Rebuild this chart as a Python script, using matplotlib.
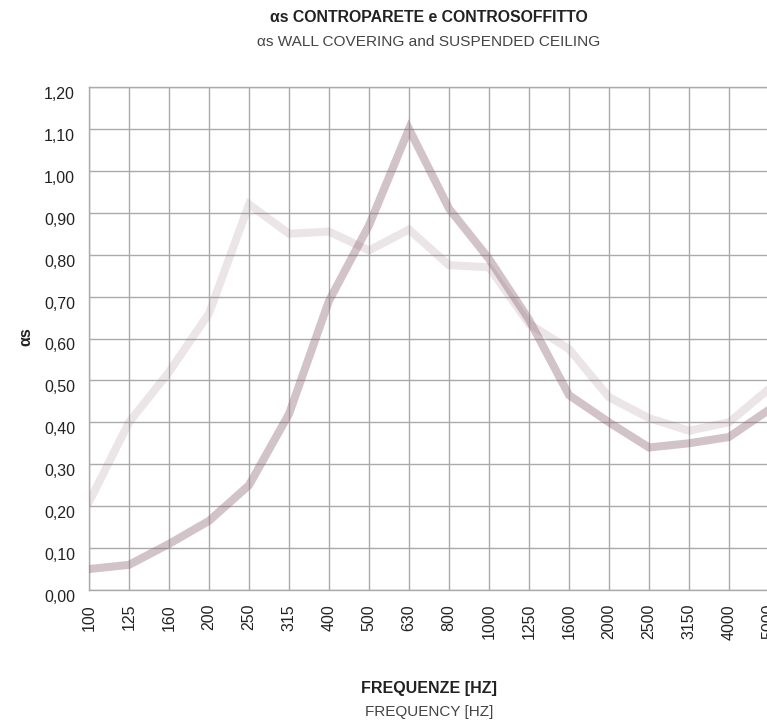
import matplotlib
matplotlib.use("Agg")
import matplotlib.pyplot as plt
import matplotlib.transforms as mtransforms
import numpy as np

freqs = ["100", "125", "160", "200", "250", "315", "400", "500", "630", "800",
         "1000", "1250", "1600", "2000", "2500", "3150", "4000", "5000"]
wall_covering = [0.21, 0.40, 0.52, 0.66, 0.92, 0.85, 0.855, 0.81, 0.86, 0.775,
                 0.77, 0.635, 0.575, 0.46, 0.41, 0.38, 0.40, 0.48]
suspended_ceiling = [0.05, 0.06, 0.11, 0.165, 0.25, 0.42, 0.69, 0.87, 1.10, 0.91,
                     0.79, 0.645, 0.465, 0.40, 0.34, 0.35, 0.365, 0.43]
yticks = [0.0, 0.1, 0.2, 0.3, 0.4, 0.5, 0.6, 0.7, 0.8, 0.9, 1.0, 1.1, 1.2]
ytick_labels = ["0,00", "0,10", "0,20", "0,30", "0,40", "0,50", "0,60", "0,70",
                "0,80", "0,90", "1,00", "1,10", "1,20"]

plt.rcParams['font.family'] = ['Liberation Sans', 'DejaVu Sans']

W, H = 767, 722
fig = plt.figure(figsize=(W / 100, H / 100), dpi=100)
ax = fig.add_axes([89 / W, (H - 590) / H, 680 / W, 503 / H])

x = np.arange(len(freqs))
ax.plot(x, wall_covering, color='#9e8088', alpha=0.2, lw=5.8,
        solid_joinstyle='miter', zorder=3)
ax.plot(x, suspended_ceiling, color='#8e6a74', alpha=0.40, lw=5.8,
        solid_joinstyle='miter', zorder=3)

ax.set_xlim(0, len(freqs) - 1)
ax.set_ylim(0, 1.2)
ax.set_xticks(x)
ax.set_xticklabels(freqs, rotation=90, fontsize=11.5, color='#222222')
ax.set_yticks(yticks)
ax.set_yticklabels(ytick_labels, fontsize=11.5, color='#222222')
ax.tick_params(axis='y', length=0, pad=10)
ax.tick_params(axis='x', length=0, pad=10)
ax.grid(True, color='#aaaaaa', lw=1.0, zorder=1)
ax.set_axisbelow(True)
for s in ax.spines.values():
    s.set_color('#aaaaaa')
    s.set_linewidth(1.0)

offset = mtransforms.ScaledTranslation(0, -6 / 100, fig.dpi_scale_trans)
for lbl in ax.get_yticklabels():
    lbl.set_transform(lbl.get_transform() + offset)

cx = (89 + 769) / 2 / W
fig.text(cx, 1 - 18 / H, "αs CONTROPARETE e CONTROSOFFITTO", ha='center', va='center',
         fontsize=11.4, fontweight='bold', color='#222222')
fig.text(cx, 1 - 42 / H, "αs WALL COVERING and SUSPENDED CEILING", ha='center', va='center',
         fontsize=11.1, color='#444444')
fig.text(cx, 1 - 688 / H, "FREQUENZE [HZ]", ha='center', va='center',
         fontsize=11.5, fontweight='bold', color='#222222')
fig.text(cx, 1 - 712 / H, "FREQUENCY [HZ]", ha='center', va='center',
         fontsize=11, color='#444444')
fig.text(26 / W, 1 - 337 / H, "αs", ha='center', va='center', rotation=90,
         fontsize=11.5, fontweight='bold', color='#222222')

fig.savefig("out.png", dpi=100)
